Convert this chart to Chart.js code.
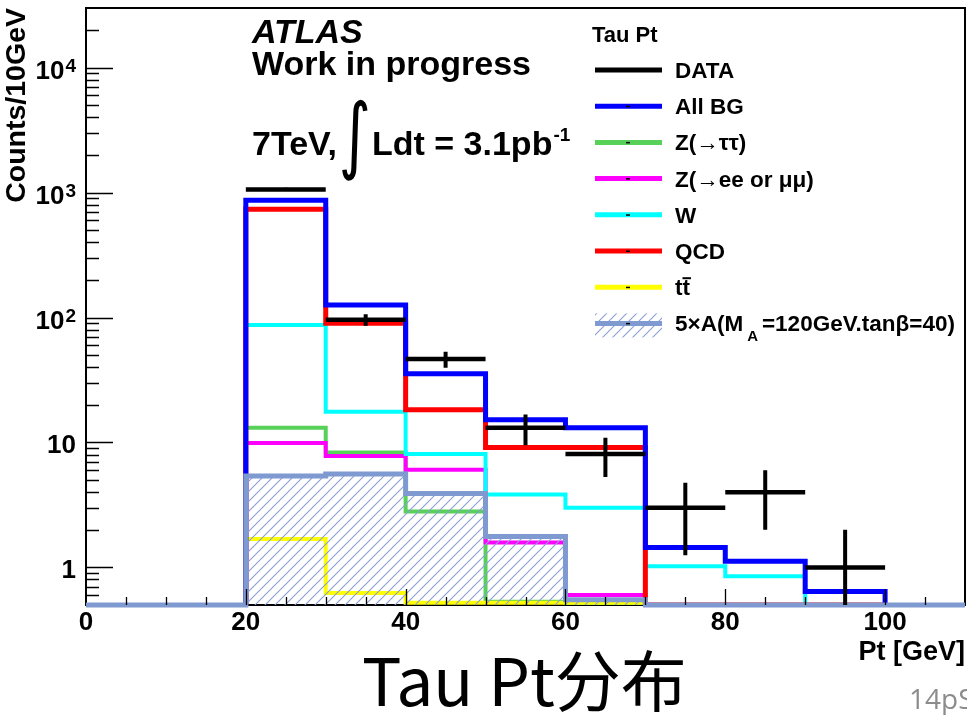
<!DOCTYPE html>
<html>
<head>
<meta charset="utf-8">
<script src="https://cdn.jsdelivr.net/npm/chart.js@4.4.0/dist/chart.umd.min.js"></script>
<style>
    body { margin: 0; background: #fff; }
    #wrap { position: relative; width: 967px; height: 715px; overflow: hidden; }
    #tauPt { position: absolute; left: 0; top: 0; }
    #caption { position: absolute; left: 362px; top: 644px; font-family: "Noto Sans CJK SC"; font-size: 66px; line-height: 66px; white-space: nowrap; color: #000; }
    #page { position: absolute; left: 909px; top: 684px; font-family: "Open Sans"; font-size: 28px; line-height: 28px; white-space: nowrap; color: #8c8c8c; }
</style>
</head>
<body>
<div id="wrap">
    <canvas id="tauPt" width="967" height="715"></canvas>
    <div id="caption">Tau Pt分布</div>
    <div id="page">14pS</div>
</div>
<script>
        // Tau Pt histograms, 10 GeV bins from 20 to 100
        const binEdges = [20, 30, 40, 50, 60, 70, 80, 90, 100];
        const dataCounts = [1060, 96, 46.5, 13.1, 8.1, 3.0, 4.0, 1.0];
        const dataErrors = [33, 10, 6.8, 3.6, 2.8, 1.75, 2.0, 1.0];
        const allBG = [867, 126, 35.4, 15.2, 13.1, 1.44, 1.12, 0.64];
        const zTauTau = [13.1, 8.3, 2.8, 0.53, 0, 0, 0, 0];
        const zEeMuMu = [9.9, 7.8, 6.05, 1.58, 0.6, 0, 0, 0];
        const wJets = [87, 17.6, 8.1, 3.83, 3.0, 1.02, 0.85, 0];
        const qcd = [735, 90, 18.3, 9.1, 9.1, 0, 0, 0];
        const ttbar = [1.69, 0.625, 0.52, 0.52, 0.52, 0, 0, 0];
        const signalA = [5.4, 5.6, 3.9, 1.77, 0.55, 0, 0, 0];

        const xTicks = [0, 20, 40, 60, 80, 100];
        const yTicks = [1, 10, 100, 1000, 10000];
        const yTickBase = ['1', '10', '10', '10', '10'];
        const yTickExp = ['', '', '2', '3', '4'];
        const yMin = 0.5, yMax = 30000;

        const seriesLabels = ['DATA', 'All BG', 'Z(\u2192\u03c4\u03c4)', 'Z(\u2192ee or \u03bc\u03bc)', 'W', 'QCD', 'tt', '5\u00d7A(M'];

        const sans = '"Liberation Sans", Arial, sans-serif';

        function histPoints(vals, from, to) {
            const pts = [{ x: from, y: yMin }];
            vals.forEach((v, i) => pts.push({ x: binEdges[i], y: v > 0 ? v : yMin }));
            pts.push({ x: binEdges[binEdges.length - 1], y: yMin });
            pts.push({ x: to, y: yMin });
            return pts;
        }

        function dataBars() {
            const pts = [];
            dataCounts.forEach((v, i) => {
                pts.push({ x: binEdges[i], y: v }, { x: binEdges[i + 1], y: v }, { x: binEdges[i + 1], y: null });
            });
            return pts;
        }

        function dataErrorBars() {
            const pts = [];
            dataCounts.forEach((v, i) => {
                const c = (binEdges[i] + binEdges[i + 1]) / 2;
                pts.push({ x: c, y: Math.max(v - dataErrors[i], yMin) }, { x: c, y: v + dataErrors[i] }, { x: c, y: null });
            });
            return pts;
        }

        function hatch(color) {
            const c = document.createElement('canvas');
            c.width = 10; c.height = 10;
            const g = c.getContext('2d');
            g.strokeStyle = color;
            g.lineWidth = 1.1;
            g.beginPath();
            g.moveTo(-1, 11); g.lineTo(11, -1);
            g.moveTo(-1, 1); g.lineTo(1, -1);
            g.moveTo(9, 11); g.lineTo(11, 9);
            g.stroke();
            return g.createPattern(c, 'repeat');
        }
        const hatchFill = hatch('#8a9fd3');

        function histo(label, vals, color, width, order, extra) {
            return Object.assign({
                label: label,
                data: histPoints(vals, 20, 100),
                borderColor: color,
                borderWidth: width,
                stepped: true,
                fill: false,
                pointRadius: 0,
                borderJoinStyle: 'miter',
                borderCapStyle: 'butt',
                order: order
            }, extra || {});
        }

        const datasets = [
            { label: 'DATA', data: dataBars(), borderColor: '#000', borderWidth: 4.5, pointRadius: 0, spanGaps: false, order: 0 },
            { label: 'DATA err', data: dataErrorBars(), borderColor: '#000', borderWidth: 4, pointRadius: 0, spanGaps: false, order: 0, clip: 3 },
            histo('All BG', allBG, '#0000ff', 5, 2),
            histo('Z tautau', zTauTau, '#57d157', 4, 7),
            histo('Z ee mumu', zEeMuMu, '#ff00ff', 4, 6),
            histo('W', wJets, '#00ffff', 4, 4),
            histo('QCD', qcd, '#ff0000', 5, 3),
            histo('ttbar', ttbar, '#ffff00', 4, 5, { clip: 3 }),
            histo('5xA', signalA, '#7e9ad0', 5, 1, { data: histPoints(signalA, 0, 110), fill: 'start', backgroundColor: hatchFill, clip: 3 })
        ];
        // legend rows in the order of seriesLabels
        const legendSets = [0, 2, 3, 4, 5, 6, 7, 8];

        const rootFrame = {
            id: 'rootFrame',
            beforeDatasetsDraw(chart) {
                const { ctx, chartArea: a } = chart;
                ctx.save();
                ctx.strokeStyle = '#000';
                ctx.lineWidth = 2;
                ctx.strokeRect(a.left, a.top, a.right - a.left, a.bottom - a.top);
                ctx.restore();
            },
            afterDatasetsDraw(chart) {
                const { ctx, chartArea: a, scales: { x, y } } = chart;
                ctx.save();
                ctx.strokeStyle = '#000';
                ctx.lineWidth = 1.3;
                ctx.beginPath();
                for (let d = 0.1; d <= 10000; d *= 10) {
                    for (let m = 1; m <= 9; m++) {
                        const v = m * d;
                        if (v <= yMin || v >= yMax) continue;
                        const py = Math.round(y.getPixelForValue(v)) + 0.5;
                        ctx.moveTo(a.left, py);
                        ctx.lineTo(a.left + (m === 1 ? 27 : 13), py);
                    }
                }
                for (let v = 5; v < 110; v += 5) {
                    const px = Math.round(x.getPixelForValue(v)) + 0.5;
                    ctx.moveTo(px, a.bottom);
                    ctx.lineTo(px, a.bottom - (v % 20 === 0 ? 16 : 8));
                }
                ctx.stroke();

                // y tick labels with exponents
                ctx.fillStyle = '#000';
                ctx.textAlign = 'right';
                yTicks.forEach((v, i) => {
                    const py = y.getPixelForValue(v);
                    let right = 76;
                    if (yTickExp[i]) {
                        ctx.font = 'bold 19px ' + sans;
                        const we = ctx.measureText(yTickExp[i]).width;
                        ctx.fillText(yTickExp[i], right, py + 4);
                        right -= we + 1;
                    }
                    ctx.font = 'bold 26px ' + sans;
                    ctx.fillText(yTickBase[i], right, py + 11);
                });
                ctx.restore();
            },
            afterDraw(chart) {
                const { ctx } = chart;
                ctx.save();
                ctx.fillStyle = '#000';
                ctx.textAlign = 'left';
                ctx.textBaseline = 'alphabetic';

                // ATLAS labels
                ctx.font = 'italic bold 34px ' + sans;
                ctx.fillText('ATLAS', 252, 43);
                ctx.font = 'bold 34px ' + sans;
                ctx.fillText('Work in progress', 252, 75);
                ctx.fillText('7TeV,', 252, 155);
                ctx.fillText('Ldt = 3.1pb', 372, 155);
                const wl = ctx.measureText('Ldt = 3.1pb').width;
                ctx.font = 'bold 19px ' + sans;
                ctx.fillText('-1', 372 + wl + 1, 141);
                ctx.save();
                ctx.translate(355, 163);
                ctx.scale(1, 1.35);
                ctx.font = '62px "DejaVu Sans"';
                ctx.textAlign = 'center';
                ctx.fillText('\u222b', 0, 0);
                ctx.restore();

                // legend
                ctx.font = 'bold 22px ' + sans;
                ctx.fillText('Tau Pt', 592, 42);
                const lx0 = 595, lx1 = 662, tx = 675;
                legendSets.forEach((di, row) => {
                    const ds = chart.data.datasets[di];
                    const ly = 70 + row * 36.2;
                    if (ds.fill) {
                        ctx.fillStyle = ds.backgroundColor;
                        ctx.fillRect(lx0, ly - 10, lx1 - lx0, 24);
                    }
                    ctx.strokeStyle = ds.borderColor;
                    ctx.lineWidth = 5;
                    ctx.beginPath();
                    ctx.moveTo(lx0, ly);
                    ctx.lineTo(lx1, ly);
                    ctx.stroke();
                    ctx.fillStyle = '#000';
                    if (row > 0) ctx.fillRect(626, ly - 0.5, 4, 1.5);
                    ctx.font = 'bold 22.5px ' + sans;
                    const label = seriesLabels[row];
                    ctx.fillText(label, tx, ly + 8);
                    let w = ctx.measureText(label).width;
                    if (label === 'tt') {
                        const wt = ctx.measureText('t').width;
                        ctx.fillRect(tx + wt, ly - 10, wt + 1, 2);
                    }
                    if (ds.fill) {
                        ctx.font = 'bold 15px ' + sans;
                        ctx.fillText('A', tx + w + 4, ly + 18);
                        w += ctx.measureText('A').width + 8;
                        ctx.font = 'bold 22.5px ' + sans;
                        ctx.fillText('=120GeV.tan\u03b2=40)', tx + w, ly + 8);
                    }
                });
                ctx.restore();
            }
        };

        new Chart(document.getElementById('tauPt').getContext('2d'), {
            type: 'line',
            data: { datasets: datasets },
            options: {
                responsive: false,
                animation: false,
                devicePixelRatio: 1,
                layout: { padding: { top: 8, right: 2, left: 0, bottom: 0 } },
                scales: {
                    x: {
                        type: 'linear',
                        min: 0,
                        max: 110,
                        grid: { display: false },
                        border: { display: false },
                        afterBuildTicks: s => { s.ticks = xTicks.map(v => ({ value: v })); },
                        afterFit: s => { s.height = 110; },
                        ticks: { color: '#000', padding: -6, maxRotation: 0, autoSkip: false, font: { family: 'Liberation Sans', size: 26, weight: 'bold' } },
                        title: { display: true, text: 'Pt [GeV]', align: 'end', color: '#000', font: { family: 'Liberation Sans', size: 27, weight: 'bold', lineHeight: 1.2 }, padding: { top: 0, bottom: 46 } }
                    },
                    y: {
                        type: 'logarithmic',
                        min: yMin,
                        max: yMax,
                        grid: { display: false },
                        border: { display: false },
                        afterBuildTicks: s => { s.ticks = yTicks.map(v => ({ value: v })); },
                        afterFit: s => { s.width = 86; },
                        ticks: { display: false },
                        title: { display: true, text: 'Counts/10GeV', align: 'end', color: '#000', font: { family: 'Liberation Sans', size: 28.5, weight: 'bold', lineHeight: 1.2 }, padding: { top: 0, bottom: 0 } }
                    }
                },
                plugins: {
                    legend: { display: false },
                    tooltip: { enabled: false }
                }
            },
            plugins: [rootFrame]
        });
</script>
</body>
</html>
